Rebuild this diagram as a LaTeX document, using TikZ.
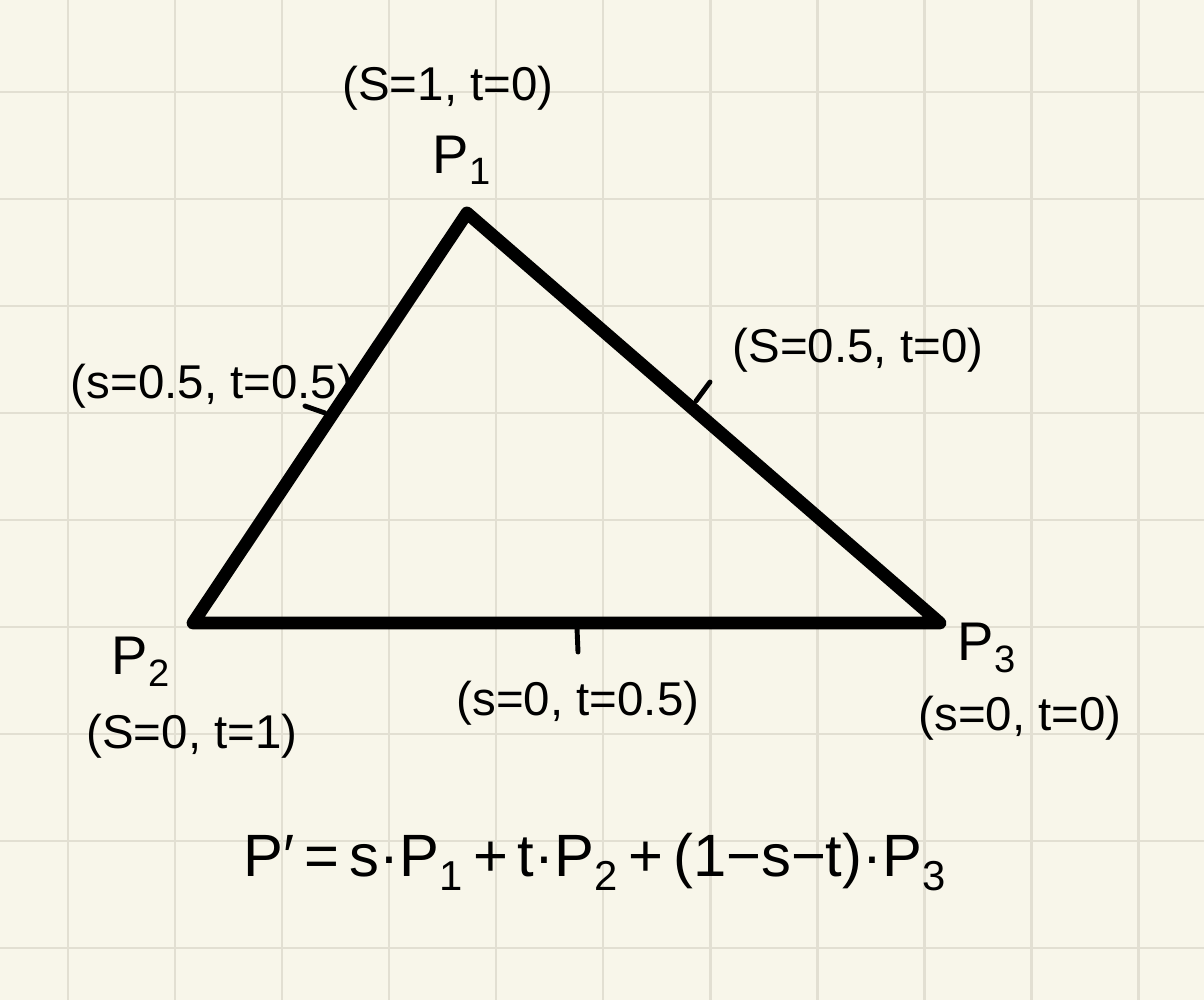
\documentclass[tikz,border=0pt]{standalone}
\usepackage{fontspec}
\setmainfont{Liberation Sans}
\definecolor{paper}{HTML}{F8F6EA}
\definecolor{gridline}{HTML}{E2DFD2}

\begin{document}
\begin{tikzpicture}[
    x=0.02cm, y=-0.02cm,
    % Triangle edge style
    edge/.style={line width=7.3pt, line join=round, line cap=round},
    % Midpoint tick style
    tick mark/.style={line width=2.8pt, line cap=round},
    % Text styles
    vertex label/.style={font=\fontsize{31}{34}\selectfont, inner sep=0pt},
    coord label/.style={font=\fontsize{27}{30}\selectfont, inner sep=0pt},
    formula/.style={font=\fontsize{34}{40}\selectfont, inner sep=0pt}
]

% --- Paper and grid ---
\fill[paper] (0,0) rectangle (1204,1000);
\useasboundingbox (0,0) rectangle (1204,1000);
\foreach \gx in {68,175,...,1138}
    \draw[gridline, line width=1.7pt] (\gx,0) -- (\gx,1000);
\foreach \gy in {92,199,...,948}
    \draw[gridline, line width=1.7pt] (0,\gy) -- (1204,\gy);

% --- Triangle corners ---
\coordinate (p1) at (467,213);
\coordinate (p2) at (193,623);
\coordinate (p3) at (940,623);

% --- Triangle ---
\draw[edge] (p1) -- (p3) -- (p2) -- cycle;

% --- Ticks at the edge midpoints ---
\coordinate (m12) at (325,413);
\coordinate (m13) at (696,401);
\coordinate (m23) at (577,628);
\draw[tick mark] (m12) -- ++(-20,-7);
\draw[tick mark] (m13) -- ++(14,-19);
\draw[tick mark] (m23) -- ++(1,24);

% --- Vertex labels ---
\node[vertex label] (lp1) at (462,160) {P\textsubscript{1}};
\node[vertex label] (lp2) at (141,662) {P\textsubscript{2}};
\node[vertex label] (lp3) at (987,648) {P\textsubscript{3}};

% --- Coordinate labels ---
\node[coord label] (c1) at (448,88) {(S=1, t=0)};
\node[coord label] (c2) at (192,736) {(S=0, t=1)};
\node[coord label] (c3) at (1020,718) {(s=0, t=0)};
\node[coord label] (c12) at (212,386) {(s=0.5, t=0.5)};
\node[coord label] (c13) at (858,350) {(S=0.5, t=0)};
\node[coord label] (c23) at (578,703) {(s=0, t=0.5)};

% --- Formula ---
\node[formula] (eq) at (595,862)
    {P′\,=\,s·P\textsubscript{1}\,+\,t·P\textsubscript{2}\,+\,(1−s−t)·P\textsubscript{3}};

\end{tikzpicture}
\end{document}
